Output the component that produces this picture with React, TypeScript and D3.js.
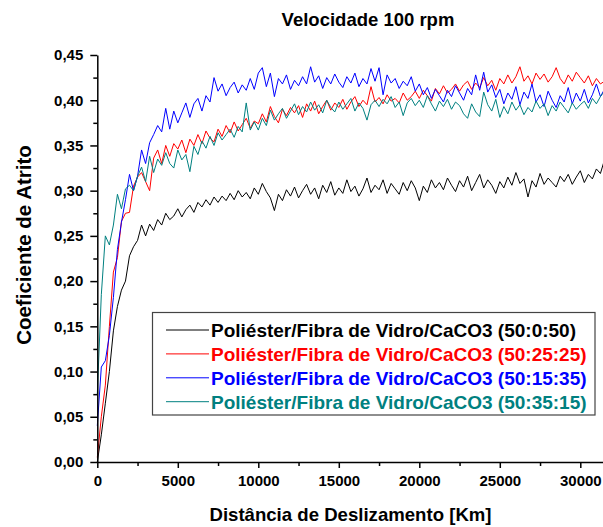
import * as d3 from "d3";
import { useEffect, useRef } from "react";

// readings every 250 km, starting at 0
const distanceStep = 250;

const atrito_50_0_50 = [
  0.000, 0.030, 0.065, 0.100, 0.145, 0.172, 0.190, 0.200, 0.228, 0.238,
  0.245, 0.262, 0.250, 0.263, 0.256, 0.268, 0.262, 0.275, 0.268, 0.272,
  0.280, 0.271, 0.279, 0.284, 0.276, 0.287, 0.282, 0.290, 0.284, 0.293,
  0.287, 0.294, 0.289, 0.297, 0.290, 0.300, 0.293, 0.298, 0.291, 0.303,
  0.296, 0.308, 0.299, 0.292, 0.278, 0.296, 0.289, 0.301, 0.294, 0.304,
  0.292, 0.300, 0.307, 0.296, 0.303, 0.291, 0.306, 0.298, 0.310, 0.295,
  0.303, 0.297, 0.312, 0.299, 0.305, 0.294, 0.302, 0.314, 0.298, 0.306,
  0.301, 0.312, 0.297, 0.308, 0.302, 0.296, 0.309, 0.300, 0.311, 0.303,
  0.289, 0.305, 0.298, 0.312, 0.303, 0.309, 0.301, 0.314, 0.306, 0.299,
  0.311, 0.304, 0.316, 0.300, 0.309, 0.318, 0.303, 0.312, 0.306, 0.297,
  0.310, 0.303, 0.315, 0.306, 0.320, 0.308, 0.313, 0.293, 0.311, 0.304,
  0.319, 0.307, 0.314, 0.309, 0.304, 0.316, 0.310, 0.318, 0.307, 0.315,
  0.322, 0.309, 0.318, 0.313, 0.324, 0.319, 0.334,
];

const atrito_50_25_25 = [
  0.005, 0.050, 0.085, 0.150, 0.210, 0.226, 0.266, 0.275, 0.276, 0.305,
  0.315, 0.320, 0.310, 0.300, 0.336, 0.345, 0.330, 0.350, 0.338, 0.352,
  0.346, 0.356, 0.342, 0.357, 0.350, 0.362, 0.352, 0.366, 0.358, 0.354,
  0.368, 0.360, 0.372, 0.364, 0.376, 0.366, 0.373, 0.380, 0.369, 0.377,
  0.374, 0.385, 0.376, 0.393, 0.382, 0.375, 0.390, 0.383, 0.392, 0.386,
  0.394, 0.381, 0.396, 0.388, 0.399, 0.385, 0.393, 0.400, 0.389, 0.397,
  0.392, 0.401, 0.390, 0.398, 0.404, 0.393, 0.400, 0.395, 0.415, 0.398,
  0.403, 0.396, 0.406, 0.399, 0.402, 0.397, 0.408, 0.400, 0.404, 0.410,
  0.402, 0.411, 0.405, 0.399, 0.413, 0.407, 0.416, 0.408, 0.412, 0.418,
  0.410, 0.417, 0.421, 0.412, 0.419, 0.414, 0.425, 0.416, 0.422, 0.411,
  0.424, 0.418, 0.428, 0.419, 0.426, 0.437, 0.421, 0.427, 0.418, 0.430,
  0.423, 0.429, 0.420, 0.426, 0.436, 0.424, 0.418, 0.428, 0.421, 0.431,
  0.425, 0.419, 0.427, 0.416, 0.424, 0.418, 0.421,
];

const atrito_50_15_35 = [
  0.040, 0.105, 0.112, 0.140, 0.182, 0.235, 0.265, 0.290, 0.318, 0.300,
  0.316, 0.345, 0.330, 0.353, 0.362, 0.372, 0.365, 0.391, 0.368, 0.388,
  0.375, 0.386, 0.397, 0.381, 0.396, 0.402, 0.388, 0.405, 0.398, 0.425,
  0.410, 0.418, 0.405, 0.414, 0.420, 0.408, 0.417, 0.411, 0.424, 0.412,
  0.430, 0.436, 0.415, 0.430, 0.404, 0.424, 0.418, 0.428, 0.412, 0.422,
  0.416, 0.426, 0.418, 0.437, 0.420, 0.427, 0.413, 0.425, 0.418, 0.429,
  0.420, 0.414, 0.426, 0.419, 0.430, 0.415, 0.424, 0.418, 0.435, 0.421,
  0.436, 0.406, 0.428, 0.419, 0.424, 0.413, 0.421, 0.416, 0.426, 0.410,
  0.418, 0.406, 0.414, 0.402, 0.412, 0.405, 0.398, 0.411, 0.404, 0.416,
  0.408, 0.400, 0.413, 0.406, 0.428, 0.411, 0.431, 0.409, 0.417, 0.403,
  0.412, 0.396, 0.408, 0.401, 0.415, 0.395, 0.409, 0.402, 0.418, 0.398,
  0.406, 0.393, 0.410, 0.400, 0.392, 0.405, 0.398, 0.414, 0.396, 0.408,
  0.399, 0.412, 0.397, 0.406, 0.418, 0.404, 0.412,
];

const atrito_50_35_15 = [
  0.075, 0.185, 0.250, 0.240, 0.262, 0.296, 0.280, 0.302, 0.306, 0.300,
  0.316, 0.326, 0.310, 0.338, 0.320, 0.335, 0.328, 0.342, 0.330, 0.325,
  0.345, 0.334, 0.340, 0.321, 0.349, 0.340, 0.355, 0.347, 0.360, 0.350,
  0.364, 0.356, 0.362, 0.368, 0.359, 0.371, 0.365, 0.397, 0.367, 0.376,
  0.367, 0.380, 0.372, 0.389, 0.378, 0.385, 0.391, 0.380, 0.388, 0.396,
  0.384, 0.393, 0.387, 0.398, 0.389, 0.395, 0.386, 0.400, 0.392, 0.387,
  0.398, 0.390, 0.396, 0.402, 0.388, 0.397, 0.391, 0.378, 0.395, 0.400,
  0.393, 0.401, 0.396, 0.404, 0.392, 0.398, 0.383, 0.397, 0.402, 0.394,
  0.400, 0.392, 0.405, 0.396, 0.388, 0.399, 0.393, 0.401, 0.390, 0.398,
  0.394, 0.385, 0.380, 0.396, 0.387, 0.382, 0.409, 0.395, 0.388, 0.401,
  0.381, 0.393, 0.385, 0.398, 0.389, 0.395, 0.384, 0.392, 0.387, 0.399,
  0.391, 0.396, 0.383, 0.394, 0.388, 0.398, 0.392, 0.386, 0.397, 0.390,
  0.395, 0.399, 0.391, 0.402, 0.396, 0.404, 0.410,
];

const seriesLabels = [
  "Poliéster/Fibra de Vidro/CaCO3 (50:0:50)",
  "Poliéster/Fibra de Vidro/CaCO3 (50:25:25)",
  "Poliéster/Fibra de Vidro/CaCO3 (50:15:35)",
  "Poliéster/Fibra de Vidro/CaCO3 (50:35:15)",
];
const seriesValues = [atrito_50_0_50, atrito_50_25_25, atrito_50_15_35, atrito_50_35_15];
const seriesColors = ["#000000", "#ff0000", "#0000ff", "#008080"];

const yTicks = [0, 0.05, 0.1, 0.15, 0.2, 0.25, 0.3, 0.35, 0.4, 0.45];
const xTicks = [0, 5000, 10000, 15000, 20000, 25000, 30000];

const FONT = "'Liberation Sans', Arial, sans-serif";

export default function App() {
  const axisBottomRef = useRef(null);
  const axisLeftRef = useRef(null);

  const W = 603;
  const H = 527;
  const x0 = 97.3;
  const pxPer5000 = 80.5;
  const xMax = 31500;

  const scaleX = d3.scaleLinear().domain([0, xMax]).range([x0, x0 + (xMax / 5000) * pxPer5000]);
  const scaleY = d3.scaleLinear().domain([0, 0.45]).range([462, 55]);

  const line = d3
    .line<number>()
    .x((_, i) => scaleX(i * distanceStep))
    .y((d) => scaleY(d));

  useEffect(() => {
    const fmt = (d) => d3.format(".2f")(d).replace(".", ",");
    if (axisLeftRef.current) {
      const g = d3.select(axisLeftRef.current);
      g.selectAll("*").remove();
      const minor = g.append("g");
      minor.call(
        d3.axisLeft(scaleY).tickValues(d3.range(0.025, 0.45, 0.05)).tickSize(4).tickSizeOuter(0).tickFormat(() => "")
      );
      minor.select(".domain").remove();
      const major = g.append("g");
      major.call(d3.axisLeft(scaleY).tickValues(yTicks).tickSize(7).tickSizeOuter(0).tickPadding(7).tickFormat(fmt));
      g.selectAll("line, path").attr("stroke", "#000").attr("stroke-width", 1.5);
      g.selectAll("text")
        .attr("font-family", FONT)
        .attr("font-weight", "bold")
        .attr("font-size", 15)
        .attr("fill", "#000");
      g.selectAll("g").attr("font-family", null).attr("font-size", null);
    }
    if (axisBottomRef.current) {
      const g = d3.select(axisBottomRef.current);
      g.selectAll("*").remove();
      const minor = g.append("g");
      minor.call(
        d3.axisBottom(scaleX).tickValues(d3.range(2500, xMax, 5000)).tickSize(4).tickSizeOuter(0).tickFormat(() => "")
      );
      minor.select(".domain").remove();
      const major = g.append("g");
      major.call(d3.axisBottom(scaleX).tickValues(xTicks).tickSize(6).tickSizeOuter(0).tickPadding(7).tickFormat(d3.format("d")));
      g.selectAll("line, path").attr("stroke", "#000").attr("stroke-width", 1.5);
      g.selectAll("text")
        .attr("font-family", FONT)
        .attr("font-weight", "bold")
        .attr("font-size", 15)
        .attr("fill", "#000");
      g.selectAll("g").attr("font-family", null).attr("font-size", null);
    }
  }, [scaleX, scaleY]);

  const legendX = 152.5;
  const legendY = 312.5;
  const rowH = 23.9;

  return (
    <svg
      width={W}
      height={H}
      style={{ position: "absolute", left: 0, top: 0, background: "#fff" }}
      fontFamily={FONT}
    >
      <text x={368} y={26} textAnchor="middle" fontWeight="bold" fontSize={18.5}>
        Velocidade 100 rpm
      </text>

      {seriesValues.map((values, i) => (
        <path key={`s-${i}`} d={line(values)} fill="none" stroke={seriesColors[i]} strokeWidth={1} />
      ))}

      <g ref={axisLeftRef} transform={`translate(${x0}, 0)`} />
      <g ref={axisBottomRef} transform={`translate(0, 462)`} />

      <text
        transform={`translate(31, 245) rotate(-90)`}
        textAnchor="middle"
        fontWeight="bold"
        fontSize={20.5}
      >
        Coeficiente de Atrito
      </text>
      <text x={350.5} y={521} textAnchor="middle" fontWeight="bold" fontSize={18.6}>
        Distância de Deslizamento [Km]
      </text>

      <g>
        <rect x={legendX} y={legendY} width={442.5} height={102.5} fill="#fff" stroke="#444" strokeWidth={1.2} />
        {seriesLabels.map((label, i) => {
          const cy = legendY + 17.5 + i * rowH;
          return (
            <g key={`leg-${i}`}>
              <line x1={166} x2={209} y1={cy} y2={cy} stroke={seriesColors[i]} strokeWidth={1} />
              <text x={211} y={cy} dy="0.36em" fontWeight="bold" fontSize={19} fill={seriesColors[i]}>
                {label}
              </text>
            </g>
          );
        })}
      </g>
    </svg>
  );
}
